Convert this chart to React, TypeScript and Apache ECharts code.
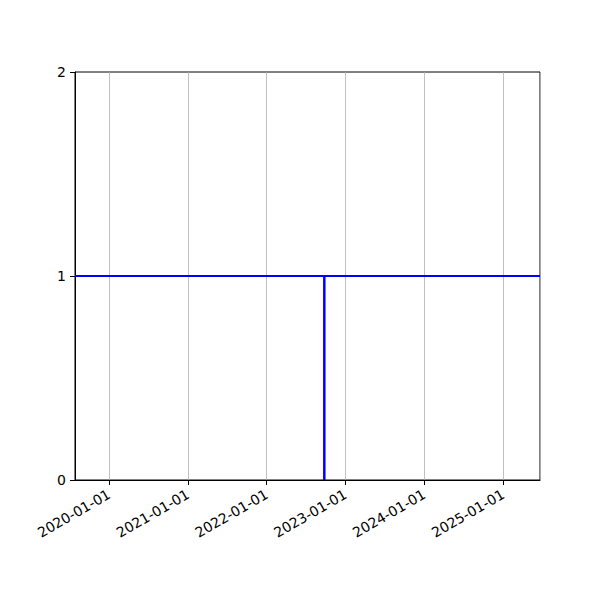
import React, { useEffect, useRef } from "react";
import * as echarts from "echarts";

const xRange = ["2019-07-27", "2025-06-21"];
const horizontalLine = [
  ["2019-07-27", 1],
  ["2025-06-21", 1],
];
const verticalLine = [
  ["2022-09-25", 0],
  ["2022-09-25", 1],
];
const yTicks = [0, 1, 2];

const pad = (n: number) => (n < 10 ? "0" + n : "" + n);

export default function App() {
  const ref = useRef<HTMLDivElement>(null);
  useEffect(() => {
    if (!ref.current) return;
    const chart = echarts.init(ref.current, undefined, { renderer: "svg" });
    const day = 24 * 3600 * 1000;
    const font = "DejaVu Sans";
    chart.setOption({
      animation: false,
      backgroundColor: "#ffffff",
      grid: {
        left: 75,
        right: 60,
        top: 72,
        bottom: 120,
        show: true,
        borderColor: "#000000",
        borderWidth: 1,
        backgroundColor: "transparent",
      },
      xAxis: {
        type: "time",
        min: xRange[0],
        max: xRange[1],
        minInterval: 365 * day,
        maxInterval: 366 * day,
        axisLine: { show: true, lineStyle: { color: "#000", width: 1 } },
        axisTick: { show: true, length: 5, inside: false, lineStyle: { color: "#000", width: 1 } },
        minorTick: { show: false },
        splitLine: { show: true, lineStyle: { color: "#b0b0b0", width: 0.8 } },
        axisLabel: {
          show: true,
          rotate: 30,
          color: "#000",
          fontFamily: font,
          fontSize: 14,
          margin: 13,
          showMinLabel: false,
          showMaxLabel: false,
          hideOverlap: false,
          formatter: (v: number) => {
            const d = new Date(v);
            return d.getFullYear() + "-" + pad(d.getMonth() + 1) + "-" + pad(d.getDate());
          },
        },
      },
      yAxis: {
        type: "value",
        min: yTicks[0],
        max: yTicks[yTicks.length - 1],
        interval: 1,
        axisLine: { show: true, lineStyle: { color: "#000", width: 1 } },
        axisTick: { show: true, length: 5, inside: false, lineStyle: { color: "#000", width: 1 } },
        splitLine: { show: false },
        axisLabel: {
          color: "#000",
          fontFamily: font,
          fontSize: 14,
          margin: 9,
        },
      },
      series: [
        {
          type: "line",
          data: horizontalLine,
          showSymbol: false,
          symbol: "none",
          lineStyle: { color: "#0000ff", width: 2 },
          itemStyle: { color: "#0000ff" },
        },
        {
          type: "line",
          data: verticalLine,
          showSymbol: false,
          symbol: "none",
          lineStyle: { color: "#0000ff", width: 2.5 },
          itemStyle: { color: "#0000ff" },
        },
      ],
    });
    return () => chart.dispose();
  }, []);
  return <div ref={ref} style={{ width: 600, height: 600, margin: -8 }} />;
}
